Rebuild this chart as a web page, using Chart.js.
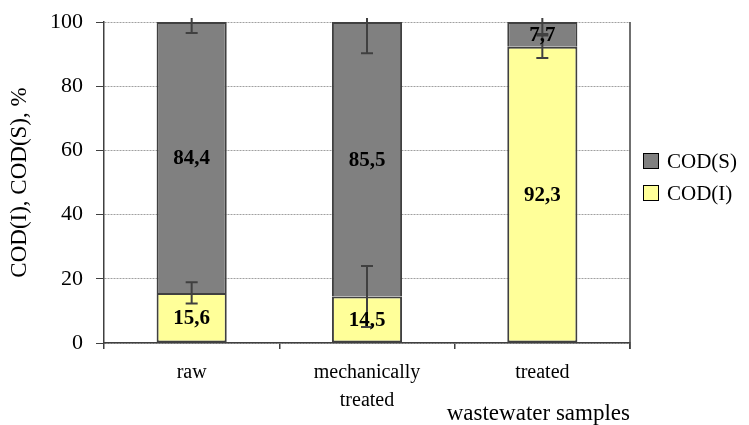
<!DOCTYPE html>
<html>
<head>
<meta charset="utf-8">
<script src="https://cdn.jsdelivr.net/npm/chart.js@4/dist/chart.umd.min.js"></script>
<style>
  html, body { margin: 0; padding: 0; background: #fff; }
  #wrap { width: 749px; height: 425px; }
</style>
</head>
<body>
<div id="wrap"><canvas id="codChart"></canvas></div>
<script>
const samples = ['raw', ['mechanically', 'treated'], 'treated'];
const codI = [15.6, 14.5, 92.3];
const codS = [84.4, 85.5, 7.7];
const errI = [3.3, 9.5, 3.5];
const errS = [3.4, 9.7, 3.7];
const yTicks = [0, 20, 40, 60, 80, 100];

const serif = '"Liberation Serif", "Times New Roman", serif';
const dark = '#404040';

// error bars, value labels, right frame line and legend
const extras = {
    id: 'extras',
    afterDatasetsDraw(chart) {
        const ctx = chart.ctx;
        const y = chart.scales.y;
        const area = chart.chartArea;
        ctx.save();
        ctx.strokeStyle = dark;
        ctx.lineWidth = 2;
        [errI, errS].forEach((errs, di) => {
            chart.getDatasetMeta(di).data.forEach((bar, i) => {
                const top = di === 0 ? codI[i] : codI[i] + codS[i];
                const hi = y.getPixelForValue(top + errs[i]);
                const lo = y.getPixelForValue(top - errs[i]);
                const yHi = Math.max(hi, area.top - 4);
                ctx.beginPath();
                ctx.moveTo(bar.x, yHi);
                ctx.lineTo(bar.x, lo);
                ctx.moveTo(bar.x - 6, lo);
                ctx.lineTo(bar.x + 6, lo);
                if (hi >= area.top - 4) {
                    ctx.moveTo(bar.x - 6, hi);
                    ctx.lineTo(bar.x + 6, hi);
                }
                ctx.stroke();
            });
        });

        // right frame
        ctx.lineWidth = 1.5;
        ctx.beginPath();
        ctx.moveTo(area.right, area.top);
        ctx.lineTo(area.right, area.bottom + 6);
        ctx.stroke();

        // value labels
        ctx.fillStyle = '#000';
        ctx.font = 'bold 21px ' + serif;
        ctx.textAlign = 'center';
        ctx.textBaseline = 'middle';
        chart.data.datasets.forEach((ds, di) => {
            chart.getDatasetMeta(di).data.forEach((bar, i) => {
                const base = di === 0 ? 0 : codI[i];
                const mid = y.getPixelForValue(base + ds.data[i] / 2);
                ctx.fillText(ds.data[i].toFixed(1).replace('.', ','), bar.x, mid + 1);
            });
        });

        // legend
        const items = [[1, 161], [0, 193]];
        ctx.font = '21px ' + serif;
        ctx.textAlign = 'left';
        ctx.lineWidth = 1;
        items.forEach(([di, cy]) => {
            const ds = chart.data.datasets[di];
            ctx.fillStyle = ds.backgroundColor;
            ctx.fillRect(643.5, cy - 7.5, 15, 15);
            ctx.strokeStyle = '#000';
            ctx.strokeRect(643.5, cy - 7.5, 15, 15);
            ctx.fillStyle = '#000';
            ctx.fillText(ds.label, 667, cy + 1);
        });
        ctx.restore();
    }
};

new Chart(document.getElementById('codChart'), {
    type: 'bar',
    data: {
        labels: samples,
        datasets: [{
            label: 'COD(I)',
            data: codI,
            backgroundColor: '#ffff99',
            borderColor: dark,
            borderWidth: 2,
            borderSkipped: false,
            barPercentage: 0.4,
            categoryPercentage: 1
        }, {
            label: 'COD(S)',
            data: codS,
            backgroundColor: '#808080',
            borderColor: dark,
            borderWidth: 2,
            borderSkipped: 'bottom',
            barPercentage: 0.4,
            categoryPercentage: 1
        }]
    },
    options: {
        responsive: true,
        maintainAspectRatio: false,
        animation: false,
        layout: { padding: { left: 6, right: 119, top: 22, bottom: 0 } },
        plugins: {
            legend: { display: false },
            tooltip: { enabled: false }
        },
        scales: {
            x: {
                stacked: true,
                afterFit: s => { s.height = 82; s.paddingLeft = 0; s.paddingRight = 0; },
                grid: {
                    offset: true,
                    drawOnChartArea: false,
                    tickLength: 6,
                    color: dark,
                    lineWidth: 1.5
                },
                border: { color: dark, width: 1.5 },
                ticks: {
                    color: '#000',
                    padding: 10,
                    font: { family: serif, size: 20, lineHeight: 1.4 }
                },
                title: {
                    display: true,
                    text: 'wastewater samples',
                    align: 'end',
                    color: '#000',
                    padding: { top: 0, bottom: 0 },
                    font: { family: serif, size: 23, lineHeight: 1 }
                }
            },
            y: {
                stacked: true,
                min: 0,
                max: 100,
                afterFit: s => { s.width = 98; s.paddingTop = 0; s.paddingBottom = 0; },
                afterBuildTicks: s => { s.ticks = yTicks.map(v => ({ value: v })); },
                grid: {
                    color: '#a0a0a0',
                    tickColor: dark,
                    tickLength: 8,
                    lineWidth: 1
                },
                border: { color: dark, width: 1.5, dash: [2, 1] },
                ticks: {
                    color: '#000',
                    padding: 13,
                    font: { family: serif, size: 22 }
                },
                title: {
                    display: true,
                    text: 'COD(I), COD(S), %',
                    color: '#000',
                    padding: { top: 0, bottom: 0 },
                    font: { family: serif, size: 23 }
                }
            }
        }
    },
    plugins: [extras]
});
</script>
</body>
</html>
